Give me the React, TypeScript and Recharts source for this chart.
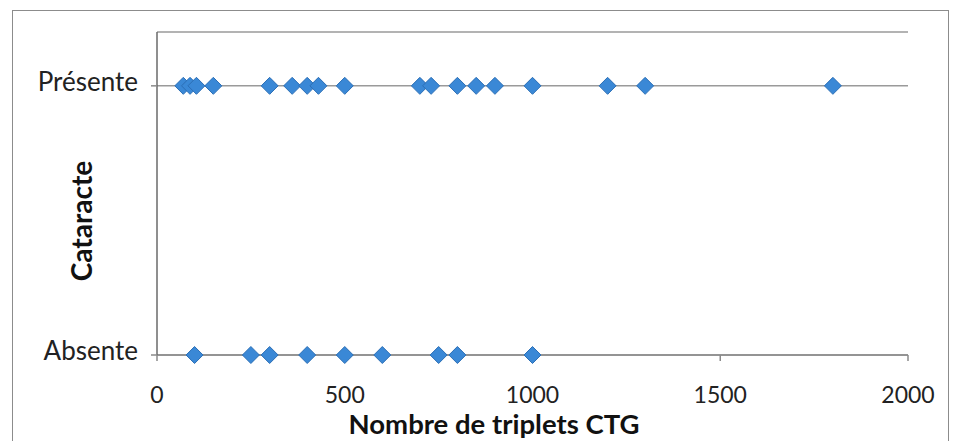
import React from "react";
import {
  ScatterChart,
  Scatter,
  XAxis,
  YAxis,
  CartesianGrid,
  Label,
} from "recharts";

// Nombre de triplets CTG, patients avec cataracte présente
const presenteValues = [70, 88, 105, 150, 300, 360, 400, 430, 500, 700, 730, 800, 850, 900, 1000, 1200, 1300, 1800];
// Nombre de triplets CTG, patients avec cataracte absente
const absenteValues = [100, 250, 300, 400, 500, 600, 750, 800, 1000];

const xTicks = [0, 500, 1000, 1500, 2000];
const yTicks = [0, 1];
const yTickLabels: Record<number, string> = { 0: "Absente", 1: "Présente" };
const xTitle = "Nombre de triplets CTG";
const yTitle = "Cataracte";

const data = [
  ...presenteValues.map((v) => ({ x: v, y: 1 })),
  ...absenteValues.map((v) => ({ x: v, y: 0 })),
];

const FONT = "Lato, 'Open Sans', sans-serif";

const Diamond = (props: any) => {
  const { cx, cy } = props;
  const r = 8.5;
  return (
    <polygon
      points={`${cx},${cy - r} ${cx + r},${cy} ${cx},${cy + r} ${cx - r},${cy}`}
      fill="#3a88d6"
      stroke="#2c6fb6"
      strokeWidth={1}
    />
  );
};

const XTick = (props: any) => {
  const { x, y, payload } = props;
  return (
    <text x={x} y={y + 40} textAnchor="middle" fontSize={23} fill="#222" fontFamily={FONT}>
      {payload.value}
    </text>
  );
};

const YTick = (props: any) => {
  const { x, y, payload } = props;
  return (
    <text x={x - 11} y={y + 5} textAnchor="end" fontSize={26} fill="#222" fontFamily={FONT}>
      {yTickLabels[payload.value]}
    </text>
  );
};

export default function App() {
  return (
    <div style={{ position: "absolute", left: 0, top: 0, width: 955, height: 441, background: "#fff", overflow: "hidden" }}>
      <div
        style={{
          position: "absolute",
          left: 12,
          top: 10,
          width: 935,
          height: 460,
          border: "1.5px solid #8c8c8c",
        }}
      />
      <div style={{ position: "absolute", left: 0, top: 0 }}>
        <ScatterChart width={955} height={441} margin={{ top: 32, right: 47, bottom: 0, left: 0 }}>
          <CartesianGrid horizontal={true} vertical={false} stroke="#9a9a9a" strokeWidth={1.5} />
          <XAxis
            type="number"
            dataKey="x"
            domain={[0, 2000]}
            ticks={xTicks}
            height={86}
            tick={<XTick />}
            tickSize={6}
            axisLine={{ stroke: "#8a8a8a", strokeWidth: 1.5 }}
            tickLine={{ stroke: "#8a8a8a", strokeWidth: 1.5 }}
            interval={0}
          >
            <Label
              content={() => (
                <text x={494} y={434} textAnchor="middle" fontSize={27.5} fontWeight="bold" fill="#111" fontFamily={FONT}>
                  {xTitle}
                </text>
              )}
            />
          </XAxis>
          <YAxis
            type="number"
            dataKey="y"
            domain={[0, 1.2]}
            ticks={yTicks}
            width={157}
            tick={<YTick />}
            tickSize={6}
            axisLine={{ stroke: "#6a6a6a", strokeWidth: 1.5 }}
            tickLine={{ stroke: "#8a8a8a", strokeWidth: 1.5 }}
            interval={0}
          >
            <Label
              content={() => (
                <text
                  x={81}
                  y={221}
                  textAnchor="middle"
                  dominantBaseline="central"
                  transform="rotate(-90 81 221)"
                  fontSize={28}
                  fontWeight="bold"
                  fill="#111"
                  fontFamily={FONT}
                >
                  {yTitle}
                </text>
              )}
            />
          </YAxis>
          <Scatter data={data} shape={<Diamond />} isAnimationActive={false} />
        </ScatterChart>
      </div>
    </div>
  );
}
